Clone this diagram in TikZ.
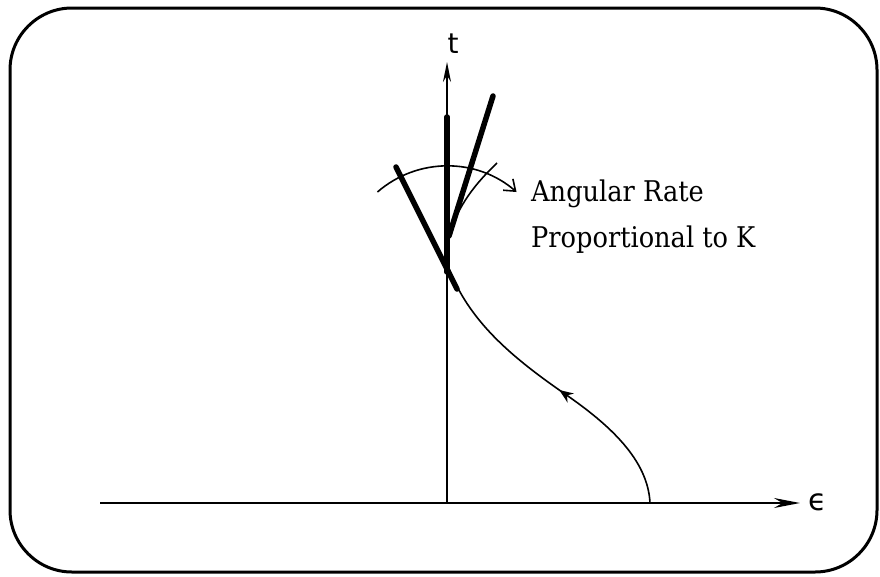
\documentclass[tikz,border=0pt]{standalone}
\usepackage{fontspec}
\setmainfont{DejaVu Serif Condensed}
\newfontfamily\symfont{DejaVu Sans}
\usetikzlibrary{arrows.meta,decorations.markings}
\begin{document}
\begin{tikzpicture}[x=1pt,y=-1pt,
  frame/.style={line width=3pt,rounded corners=62pt},
  axis/.style={line width=1.8pt,-{Stealth[length=26pt,width=10pt]}},
  rod/.style={line width=5.5pt,line cap=round},
  thin/.style={line width=1.6pt},
  lbl/.style={font=\fontsize{28.5}{46}\selectfont,align=left,anchor=base west,inner sep=0pt}]
\useasboundingbox (0,0) rectangle (880,576);
\draw[frame] (10,8) rectangle (877,572);
% axes
\coordinate (O) at (447,503);
\coordinate (xs) at (100,503);
\coordinate (xe) at (800,503);
\coordinate (yt) at (447,62);
\draw[axis] (xs) -- (xe);
\draw[line width=1.8pt,-{Stealth[length=20pt,width=8pt]}] (O) -- (yt);
\node (tl) at (453,44) {\symfont\fontsize{28}{28}\selectfont t};
\node (el) at (818,502) {\symfont\fontsize{30}{30}\selectfont ϵ};
% trajectory
\coordinate (P) at (447,272);
\draw[thin,postaction={decorate},decoration={markings,
  mark=at position 0.47 with {\arrow{Stealth[length=14pt,width=11pt]}}}]
  (650,503) .. controls (648,460) and (610,425) .. (565,394) .. controls (510,356) and (468,320) .. (448,266);
% rods
\coordinate (r1a) at (447,117); \coordinate (r1b) at (447,272);
\coordinate (r2a) at (493,96);  \coordinate (r2b) at (449,236);
\coordinate (r3a) at (396,167); \coordinate (r3b) at (457,289);
\draw[rod] (r1a) -- (r1b);
\draw[rod] (r2a) -- (r2b);
\draw[rod] (r3a) -- (r3b);
\draw[thin] (r2b) .. controls (458,205) and (476,183) .. (497,163);
% angular rate arc
\draw[thin,-{Straight Barb[length=10pt,width=15pt,line width=1.6pt]}] (P) ++(-131:106) arc[start angle=-131,end angle=-49,radius=106];
\node[lbl] (txt) at (531,247) {Angular Rate\\Proportional to K};
\end{tikzpicture}
\end{document}
